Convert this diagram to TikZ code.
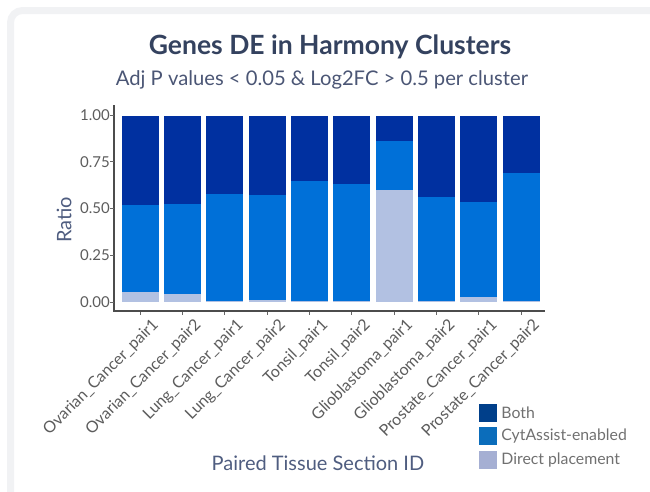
\documentclass[tikz,border=0pt]{standalone}
\usepackage{fontspec}
\setmainfont{Lato}
\usepackage{tikz}
\usetikzlibrary{positioning}
\usetikzlibrary{calc}

\definecolor{both}{HTML}{0030A0}
\definecolor{cyt}{HTML}{0070D8}
\definecolor{direct}{HTML}{B2C1E2}
\definecolor{bothkey}{HTML}{003F8A}
\definecolor{cytkey}{HTML}{0B6DBB}
\definecolor{directkey}{HTML}{A5AFD3}
\definecolor{titlecol}{HTML}{34425F}
\definecolor{subcol}{HTML}{4B5675}
\definecolor{axcol}{HTML}{4F5D80}
\definecolor{tickcol}{HTML}{5C5C5C}
\definecolor{legcol}{HTML}{707070}
\definecolor{framecol}{HTML}{F1F2F4}

\begin{document}
\begin{tikzpicture}[
    x=1pt, y=-1pt,              % one unit is one pixel, y going down
    node distance=5pt and 4pt,  % spacing of the legend
    ]
% -------------------------------------------------
\tikzset{
  titletext/.style={text=titlecol, font=\bfseries\fontsize{26.5}{27}\selectfont},
  subtext/.style={text=subcol, font=\fontsize{20.2}{21}\selectfont},
  axtitle/.style={text=axcol, font=\fontsize{20}{20}\selectfont},
  ticklab/.style={text=tickcol, font=\fontsize{15}{15}\selectfont, inner sep=0pt, anchor=east},
  xlab/.style={text=tickcol, font=\fontsize{16}{16}\selectfont, inner sep=0pt, rotate=45, anchor=north east},
  axisline/.style={draw=black!70, line width=1.3pt},
  tickline/.style={draw=black!60, line width=0.8pt},
  barpart/.style={draw=white, line width=0.5pt},
  key/.style={minimum size=18pt, inner sep=0pt},
  legtext/.style={text=legcol, font=\fontsize{15.8}{16}\selectfont, inner sep=0pt}
}

\useasboundingbox (0,0) rectangle (650,491);
\begin{scope}
  \clip (0,0) rectangle (650,491);
  \draw[framecol, line width=7pt, rounded corners=12pt] (10.5,10.5) rectangle (720,560);
\end{scope}

\node[titletext] (title) at (330,47) {Genes DE in Harmony Clusters};
\node[subtext] (subtitle) at (322,80) {Adj P values < 0.05 \& Log2FC > 0.5 per cluster};

% bars: direct placement / cytassist top
\foreach \lab/\d/\c [count=\i from 0] in {
    Ovarian\_Cancer\_pair1/0.052/0.517,
    Ovarian\_Cancer\_pair2/0.043/0.526,
    Lung\_Cancer\_pair1/0.008/0.578,
    Lung\_Cancer\_pair2/0.012/0.570,
    Tonsil\_pair1/0.005/0.647,
    Tonsil\_pair2/0.003/0.631,
    Glioblastoma\_pair1/0.597/0.861,
    Glioblastoma\_pair2/0.003/0.561,
    Prostate\_Cancer\_pair1/0.025/0.533,
    Prostate\_Cancer\_pair2/0.008/0.691} {
  \pgfmathsetmacro\xl{121+42.33*\i}
  \pgfmathsetmacro\xr{\xl+38}
  \fill[both] (\xl,302) rectangle (\xr,115);
  \fill[cyt] (\xl,302) rectangle (\xr,{302-187*\c});
  \fill[direct] (\xl,302) rectangle (\xr,{302-187*\d});
  \draw[barpart] (\xl,302) rectangle (\xr,115);
  \draw[tickline] (\xl+19,311) -- (\xl+19,315);
  \node[xlab] (xlab\i) at (\xl+30,317) {\lab};
}

% axes
\draw[axisline] (114,105) -- (114,311) -- (545,311);
\foreach \v/\t in {0/0.00, 0.25/0.25, 0.5/0.50, 0.75/0.75, 1/1.00} {
  \draw[tickline] (110,{302-187*\v}) -- (114,{302-187*\v});
  \node[ticklab] at (110,{302-187*\v}) {\t};
}

\node[axtitle, rotate=90] (ytitle) at (64,220) {Ratio};
\node[axtitle] (xtitle) at (318,463) {Paired Tissue Section ID};

% legend
\node[key, fill=bothkey] (kboth) at (488,413) {};
\node[key, fill=cytkey, below=5pt of kboth] (kcyt) {};
\node[key, fill=directkey, below=5pt of kcyt] (kdirect) {};
\node[legtext, right=of kboth] (lboth) {Both};
\node[legtext, right=of kcyt] (lcyt) {CytAssist-enabled};
\node[legtext, right=of kdirect] (ldirect) {Direct placement};

\end{tikzpicture}
\end{document}
